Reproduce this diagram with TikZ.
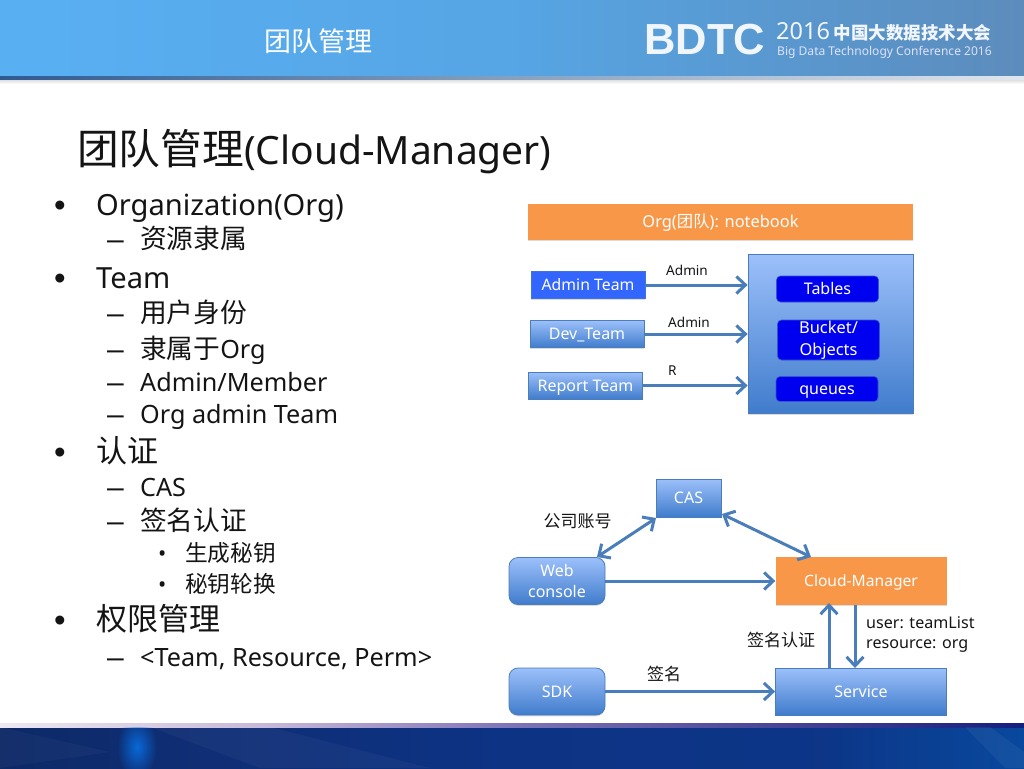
\documentclass[tikz,border=0pt]{standalone}
\usepackage{fontspec}
\setmainfont{Noto Sans}
\newfontfamily\cjk{Noto Sans CJK SC}
\newfontfamily\logofont{Liberation Sans}
\usetikzlibrary{arrows.meta,shadows,fadings}
\tikzfading[name=softglow,inner color=transparent!0,outer color=transparent!100]
\definecolor{topL}{RGB}{88,176,243}
\definecolor{topM}{RGB}{86,165,228}
\definecolor{topR}{RGB}{92,140,188}
\definecolor{barD}{RGB}{45,90,145}
\definecolor{orangebox}{RGB}{248,151,72}
\definecolor{blueHi}{RGB}{156,192,250}
\definecolor{blueLo}{RGB}{64,124,204}
\definecolor{edgeb}{RGB}{74,126,187}
\definecolor{royal}{RGB}{51,102,255}
\definecolor{pure}{RGB}{0,0,240}
\definecolor{ink}{RGB}{20,20,20}
\definecolor{logow}{RGB}{240,246,252}
\definecolor{glow}{RGB}{8,105,215}
\pgfdeclarehorizontalshading{footshade}{100bp}{
  rgb(0bp)=(0.05,0.16,0.40);
  rgb(25bp)=(0.05,0.16,0.40);
  rgb(35bp)=(0.06,0.18,0.46);
  rgb(50bp)=(0.05,0.20,0.52);
  rgb(65bp)=(0.05,0.21,0.53);
  rgb(80bp)=(0.02,0.32,0.66);
  rgb(90bp)=(0.03,0.30,0.64);
  rgb(100bp)=(0.04,0.27,0.60)}
\pgfdeclarehorizontalshading{stripshade}{100bp}{
  rgb(0bp)=(0.93,0.91,0.95);
  rgb(25bp)=(0.93,0.91,0.95);
  rgb(38bp)=(0.78,0.72,0.85);
  rgb(50bp)=(0.50,0.45,0.72);
  rgb(62bp)=(0.30,0.28,0.60);
  rgb(75bp)=(0.08,0.12,0.50);
  rgb(100bp)=(0.06,0.08,0.45)}
\tikzset{
  softshadow/.style={general shadow={fill=black,opacity=.14,shadow xshift=0pt,shadow yshift=-1.3pt}},
  gradbox/.style={softshadow,draw=edgeb,line width=.8pt,top color=blueHi,bottom color=blueLo,text=white,align=center,inner sep=0pt,font=\fontsize{16}{21}\selectfont},
  roundbox/.style={gradbox,rounded corners=9pt},
  orangeb/.style={softshadow,fill=orangebox,text=white,inner sep=0pt,align=center,font=\fontsize{15.6}{20}\selectfont},
  purebox/.style={fill=pure,draw=edgeb!70!pure,line width=.6pt,rounded corners=4pt,text=white,align=center,inner sep=0pt,font=\fontsize{16}{21}\selectfont},
  capc/.style={text height=11.4pt,text depth=0pt},
  xhc/.style={text height=11pt,text depth=0pt},
  conn/.style={draw=edgeb,line width=3pt,-{Straight Barb[length=9pt,width=17pt,line width=3pt]}},
  conn2/.style={draw=edgeb,line width=3pt,{Straight Barb[length=9pt,width=17pt,line width=3pt]}-{Straight Barb[length=9pt,width=17pt,line width=3pt]}},
  lbl/.style={text=ink,inner sep=0pt,anchor=base west,font=\fontsize{13.6}{18}\selectfont},
  cl/.style={inner sep=0pt,text=ink,font=\cjk\fontsize{17}{20}\selectfont},
  l1/.style={text=ink,inner sep=0pt,anchor=base west,font=\fontsize{29.1}{34}\selectfont},
  l1c/.style={text=ink,inner sep=0pt,anchor=base west,font=\cjk\fontsize{31}{34}\selectfont},
  bul1/.style={text=ink,inner sep=0pt,anchor=base west,font=\logofont\fontsize{33}{36}\selectfont},
  l2/.style={text=ink,inner sep=0pt,anchor=base west,font=\fontsize{25.2}{30}\selectfont},
  l2c/.style={text=ink,inner sep=0pt,anchor=base west,font=\cjk\fontsize{26.7}{30}\selectfont},
  dashmark/.style={text=ink,inner sep=0pt,anchor=base west,font=\logofont\fontsize{30}{32}\selectfont},
  l3/.style={text=ink,inner sep=0pt,anchor=base west,font=\cjk\fontsize{22.7}{26}\selectfont},
  bul3/.style={text=ink,inner sep=0pt,anchor=base west,font=\fontsize{22}{26}\selectfont},
}
\begin{document}
\begin{tikzpicture}[x=1pt,y=-1pt]
\useasboundingbox (0,0) rectangle (1024,768);
% header
\shade[left color=topL,right color=topR,middle color=topM] (0,0) rectangle (1024,76);
\shade[left color=barD,right color=barD!15] (0,76) rectangle (1024,80);
\shade[top color=black!12,bottom color=white] (0,80) rectangle (1024,84);
% footer
\shade[shading=footshade] (0,727) rectangle (1024,768);
\shade[shading=stripshade] (0,723) rectangle (1024,727);
\begin{scope}
\clip (0,727) rectangle (1024,768);
\fill[white,opacity=.03] (0,727) -- (110,752) -- (0,768) -- cycle;
\fill[white,opacity=.035] (150,727) -- (270,727) -- (430,768) -- (260,768) -- cycle;
\fill[white,opacity=.05] (965,727) -- (990,727) -- (1024,752) -- (1024,768) -- (1005,768) -- cycle;
\fill[glow,path fading=softglow] (137,747) ellipse (20 and 32);
\end{scope}
\node[inner sep=0pt,text=white,font=\cjk\fontsize{27}{30}\selectfont] (hd) at (318,41) {团队管理};
\node[inner sep=0pt,anchor=base west,text=logow,font=\logofont\bfseries\fontsize{43.5}{44}\selectfont] (bdtc) at (644,55) {BDTC};
\node[inner sep=0pt,anchor=base west,text=logow,text depth=0pt,font=\fontsize{23.5}{24}\selectfont] (yr) at (776,40) {2016\hspace{4pt}{\cjk\bfseries\fontsize{17.5}{24}\selectfont 中国大数据技术大会}};
\node[inner sep=0pt,anchor=base west,text=logow!92!blue,text height=9pt,font=\fontsize{12.05}{14}\selectfont] (en) at (777,55.5) {Big Data Technology Conference 2016};
% title
\node[inner sep=0pt,anchor=base west,text=ink,font=\fontsize{39}{46}\selectfont] (title) at (77,164) {{\cjk\fontsize{41.7}{46}\selectfont 团队管理}(Cloud-Manager)};
% list
\node[bul1] (b1) at (54,216) {•};   \node[l1] (t1) at (96,215) {Organization(Org)};
\node[dashmark] (d1) at (107,249) {–};  \node[l2c] (t2) at (140,248) {资源隶属};
\node[bul1] (b2) at (54,289) {•};   \node[l1] (t3) at (96,288) {Team};
\node[dashmark] (d2) at (107,323) {–};  \node[l2c] (t4) at (140,322) {用户身份};
\node[dashmark] (d3) at (107,359) {–};  \node[l2] (t5) at (140,358) {{\cjk\fontsize{26.7}{30}\selectfont 隶属于}Org};
\node[dashmark] (d4) at (107,392) {–};  \node[l2] (t6) at (140,391) {Admin/Member};
\node[dashmark] (d5) at (107,424) {–};  \node[l2] (t7) at (140,423) {Org admin Team};
\node[bul1] (b3) at (54,463) {•};   \node[l1c] (t8) at (96,462) {认证};
\node[dashmark] (d6) at (107,497) {–};  \node[l2] (t9) at (140,496) {CAS};
\node[dashmark] (d7) at (107,531) {–};  \node[l2c] (t10) at (140,530) {签名认证};
\node[bul3] (s1) at (158,561) {•};  \node[l3] (t11) at (185,561) {生成秘钥};
\node[bul3] (s2) at (158,592) {•};  \node[l3] (t12) at (185,592) {秘钥轮换};
\node[bul1] (b4) at (54,631) {•};   \node[l1c] (t13) at (96,630) {权限管理};
\node[dashmark] (d8) at (107,667) {–};  \node[l2] (t14) at (140,666) {<Team, Resource, Perm>};
% top diagram
\node[orangeb,capc,minimum width=385pt,minimum height=36pt,font=\fontsize{16.4}{20}\selectfont] (org) at (720.5,222) {Org({\cjk 团队}): notebook};
\node[softshadow,draw=edgeb,line width=.8pt,top color=blueHi,bottom color=blueLo,minimum width=165pt,minimum height=159pt,inner sep=0pt] (res) at (830.5,334) {};
\node[softshadow,fill=royal,draw=edgeb!60!royal,line width=.6pt,text=white,inner sep=0pt,capc,minimum width=114pt,minimum height=27pt,font=\fontsize{15.8}{20}\selectfont] (admin) at (588,285) {Admin Team};
\node[gradbox,capc,minimum width=114pt,minimum height=27pt] (dev) at (587,334) {Dev\_Team};
\node[gradbox,capc,minimum width=114pt,minimum height=27pt] (rep) at (585.5,385.5) {Report Team};
\node[purebox,capc,minimum width=102pt,minimum height=26pt] (tab) at (827.5,289) {Tables};
\node[purebox,minimum width=102pt,minimum height=40pt,font=\fontsize{16.4}{21.5}\selectfont] (buck) at (828.5,340) {Bucket/\\Objects};
\node[purebox,xhc,minimum width=102pt,minimum height=25pt] (que) at (827,389) {queues};
\path[conn] (admin.east) -- (res.west |- admin.east);
\path[conn] (dev.east) -- (res.west |- dev.east);
\path[conn] (rep.east) -- (res.west |- rep.east);
\node[lbl] (la1) at (666,275) {Admin};
\node[lbl] (la2) at (668,327) {Admin};
\node[lbl] (la3) at (668,375) {R};
% bottom diagram
\node[gradbox,capc,minimum width=65pt,minimum height=38pt] (cas) at (688.5,498) {CAS};
\node[roundbox,minimum width=96pt,minimum height=47pt] (web) at (557,581) {Web\\console};
\node[orangeb,capc,minimum width=171pt,minimum height=48pt] (cm) at (861,581) {Cloud-Manager};
\node[roundbox,capc,minimum width=96pt,minimum height=47pt] (sdk) at (557,691.5) {SDK};
\node[gradbox,capc,minimum width=171pt,minimum height=47pt] (svc) at (861,691.5) {Service};
\coordinate (casW) at (656,518);
\coordinate (webN) at (597,557);
\coordinate (casE) at (722,514);
\coordinate (cmN) at (811,557);
\path[conn2] (webN) -- (casW);
\path[conn2] (casE) -- (cmN);
\path[conn] (web.east) -- (cm.west);
\path[conn] (sdk.east) -- (svc.west);
\coordinate (svcA) at (829,668);
\coordinate (cmA) at (829,603);
\coordinate (cmB) at (855,605);
\coordinate (svcB) at (855,668);
\path[conn] (svcA) -- (cmA);
\path[conn] (cmB) -- (svcB);
\node[cl] (l1a) at (577.5,521) {公司账号};
\node[cl] (l2a) at (781,640) {签名认证};
\node[cl] (l3a) at (664,674) {签名};
\node[lbl,align=left,anchor=north west,font=\fontsize{16.1}{20}\selectfont] (l4a) at (866,616) {user: teamList\\resource: org};
\end{tikzpicture}
\end{document}
